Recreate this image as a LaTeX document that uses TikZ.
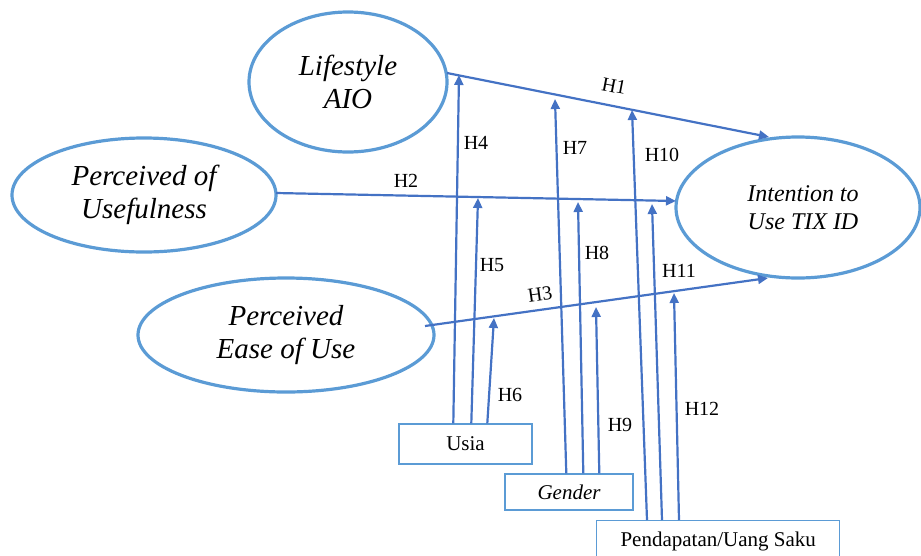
\documentclass[tikz,border=0pt]{standalone}
\usepackage{fontspec}
\setmainfont{Liberation Serif}
\usetikzlibrary{shapes.geometric,arrows.meta,calc}
\definecolor{ellblue}{HTML}{5B9BD5}
\definecolor{arrblue}{HTML}{4472C4}
\tikzset{
  construct/.style={ellipse, draw=ellblue, line width=3.2pt, inner sep=0pt, align=center,
     font=\fontsize{29}{33}\selectfont\itshape},
  boxnode/.style={rectangle, draw=ellblue, line width=1.4pt, inner sep=0pt,
     font=\fontsize{21}{24}\selectfont},
  arr/.style={draw=arrblue, line width=2.2pt, -{Triangle[length=10pt,width=9pt]}},
  hyp/.style={inner sep=0pt, font=\fontsize{20}{24}\selectfont},
}
\begin{document}
\begin{tikzpicture}[x=1pt,y=-1pt]
\useasboundingbox (0,0) rectangle (921,555);
\clip (0,0) rectangle (921,555);
% constructs
\node[construct, minimum width=198pt, minimum height=140pt] (life) at (348,82) {Lifestyle\\AIO};
\node[construct, minimum width=264pt, minimum height=114pt] (use) at (144,195) {Perceived of\\Usefulness};
\node[construct, minimum width=296pt, minimum height=114pt] (ease) at (286,335) {Perceived\\Ease of Use};
\node[construct, minimum width=244pt, minimum height=141pt, font=\fontsize{24}{28}\selectfont\itshape] (int) at (798,207.5) {\hspace*{10pt}Intention to\\\hspace*{10pt}Use TIX ID};
% moderators
\node[boxnode, minimum width=133pt, minimum height=40pt] (usia) at (465.5,444) {Usia};
\node[boxnode, minimum width=128pt, minimum height=36pt] (gender) at (569,492) {\itshape Gender};
\node[boxnode, minimum width=243pt, minimum height=42pt, anchor=north west] (pend) at (596,520) {Pendapatan/Uang Saku};
% end points
\coordinate (h1s) at (447,73);  \coordinate (h1e) at (769,137);
\coordinate (h2s) at (276,193); \coordinate (h2e) at (676,201);
\coordinate (h3s) at (425,326); \coordinate (h3e) at (768,278);
\coordinate (h4e) at (459,75);  \coordinate (h5e) at (478,198); \coordinate (h6e) at (494,318);
\coordinate (h7e) at (555,99);  \coordinate (h8e) at (578,202); \coordinate (h9e) at (596,307);
\coordinate (h10e) at (632,110); \coordinate (h11e) at (652,204); \coordinate (h12e) at (674,293);
% direct paths
\draw[arr] (h1s) -- (h1e);
\draw[arr] (h2s) -- (h2e);
\draw[arr] (h3s) -- (h3e);
% moderating paths
\draw[arr] ($(usia.north west)+(55,0)$) -- (h4e);
\draw[arr] ($(usia.north west)+(73,0)$) -- (h5e);
\draw[arr] ($(usia.north west)+(89,0)$) -- (h6e);
\draw[arr] ($(gender.north west)+(62,0)$) -- (h7e);
\draw[arr] ($(gender.north west)+(79,0)$) -- (h8e);
\draw[arr] ($(gender.north west)+(95,0)$) -- (h9e);
\draw[arr] ($(pend.north west)+(51,0)$) -- (h10e);
\draw[arr] ($(pend.north west)+(66,0)$) -- (h11e);
\draw[arr] ($(pend.north west)+(83,0)$) -- (h12e);
% labels
\node[hyp, rotate=-11] (l1) at (614,86) {H1};
\node[hyp] (l2) at (406,181) {H2};
\node[hyp, rotate=8] (l3) at (540,294) {H3};
\node[hyp] (l4) at (476,143) {H4};
\node[hyp] (l5) at (492,265) {H5};
\node[hyp] (l6) at (510,395) {H6};
\node[hyp] (l7) at (575,148) {H7};
\node[hyp] (l8) at (597,253) {H8};
\node[hyp] (l9) at (620,425) {H9};
\node[hyp] (l10) at (662,155) {H10};
\node[hyp] (l11) at (679,271) {H11};
\node[hyp] (l12) at (702,409) {H12};
\end{tikzpicture}
\end{document}
